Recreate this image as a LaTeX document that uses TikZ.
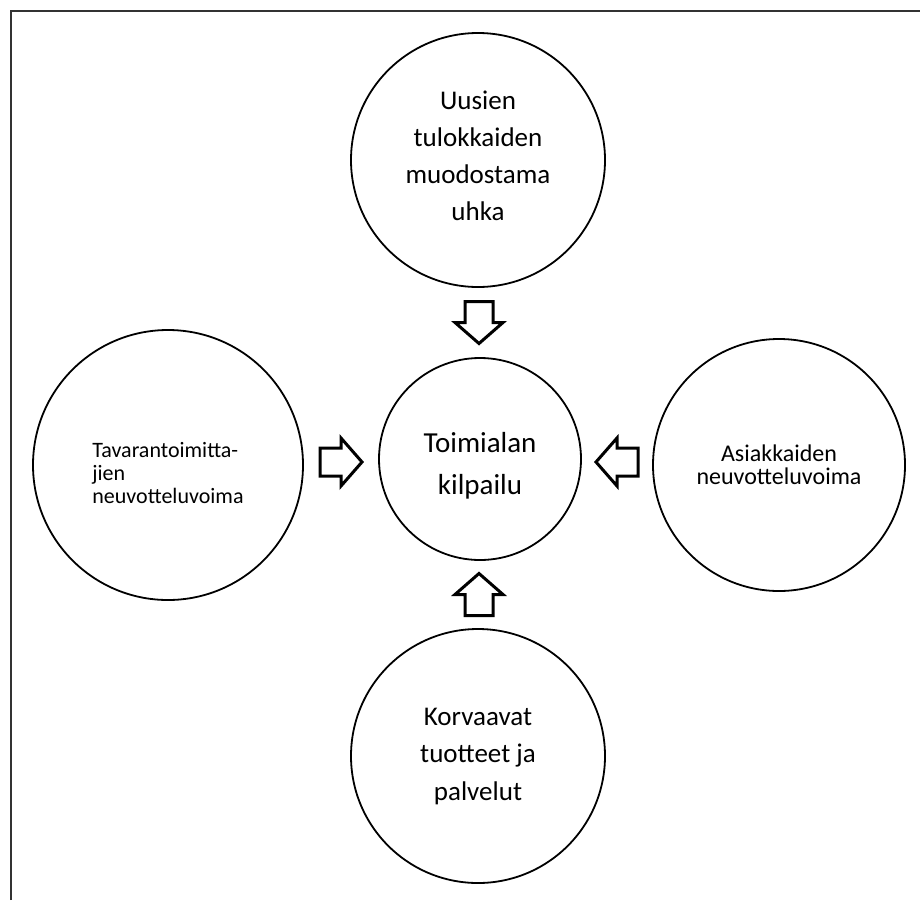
\documentclass[tikz,border=0pt]{standalone}
\usepackage{fontspec}
\setmainfont{Carlito}
\usetikzlibrary{calc}

\begin{document}
\begin{tikzpicture}[x=1pt, y=-1pt,
		force/.style={circle, draw, line width=1.8pt, inner sep=0pt, align=center},
		push/.pic={\draw[line width=3pt] (-21,-14) -- (0,-14) -- (0,-24) -- (21,0) -- (0,24) -- (0,14) -- (-21,14) -- cycle;}]
		\useasboundingbox (0,0) rectangle (920,900);
		\draw[line width=1.5pt, black!80] (11,900) -- (11,11) -- (920,11);

		% the five forces
		\node[force, minimum size=202pt, font=\fontsize{29}{42}\selectfont] (kilpailu) at (480,459) {\rule{0pt}{34pt}Toimialan\\kilpailu};
		\node[force, minimum size=254pt, font=\fontsize{27}{37}\selectfont] (tulokkaat) at (478,160) {Uusien\\tulokkaiden\\muodostama\\uhka\rule[-8pt]{0pt}{0pt}};
		\node[force, minimum size=254pt, font=\fontsize{27}{37.5}\selectfont] (korvaavat) at (478,756) {Korvaavat\\tuotteet ja\\palvelut};
		\node[force, minimum size=270pt, font=\fontsize{22}{23}\selectfont, align=left] (toimittajat) at (168,465) {\rule{0pt}{32pt}Tavarantoimitta-\\jien\\neuvotteluvoima};
		\node[force, minimum size=252pt, font=\fontsize{24}{23}\selectfont] (asiakkaat) at (779,465) {Asiakkaiden\\neuvotteluvoima};

		% block arrows towards the centre
		\pic[rotate=-90] (nuoliyla) at ($(tulokkaat.south)!0.5!(kilpailu.north)$) {push};
		\pic[rotate=90] (nuoliala) at ($(korvaavat.north)!0.5!(kilpailu.south)$) {push};
		\pic (nuolivasen) at ($(toimittajat.east)!0.5!(kilpailu.west)$) {push};
		\pic[rotate=180] (nuolioikea) at ($(asiakkaat.west)!0.5!(kilpailu.east)$) {push};
	\end{tikzpicture}
\end{document}
